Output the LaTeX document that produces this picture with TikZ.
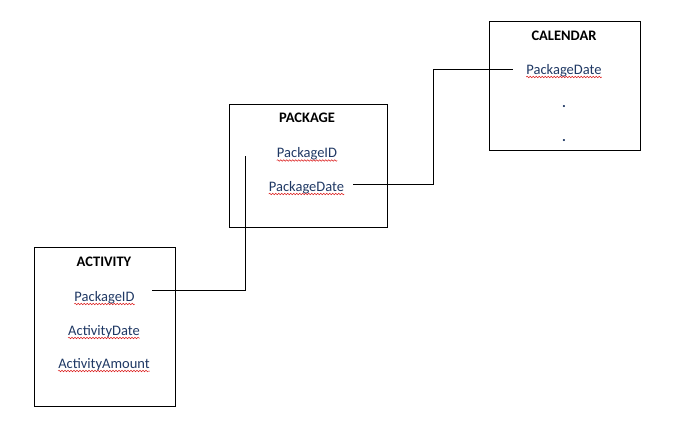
\documentclass[tikz,border=0pt]{standalone}
\usepackage{fontspec}
\setmainfont{Carlito}
\usetikzlibrary{decorations.pathmorphing}
\definecolor{fieldblue}{RGB}{31,56,100}
\definecolor{spellred}{RGB}{220,30,30}
\begin{document}
\begin{tikzpicture}[x=1pt,y=-1pt,
  table/.style={draw=black, line width=0.8pt, minimum width=#1},
  title/.style={font=\fontsize{14.5}{17}\selectfont\bfseries, text=black, anchor=base, inner sep=0pt},
  field/.style={font=\fontsize{14.5}{17}\selectfont, text=fieldblue, anchor=base, inner sep=0pt},
  spell/.style={draw=spellred, line width=0.5pt, decorate, decoration={snake, amplitude=0.8pt, segment length=3pt}},
  link/.style={draw=black, line width=0.8pt}
]
\useasboundingbox (0,0) rectangle (686,429);

% tables
\draw[table] (489,21) rectangle (640,150);
\draw[table] (229,104) rectangle (387,227);
\draw[table] (34,247) rectangle (175,406);

% CALENDAR
\node[title] (calTitle) at (564,40) {CALENDAR};
\node[field] (calDate) at (564,74) {PackageDate};
\node[field, font=\fontsize{14.5}{17}\selectfont\bfseries] (calDotA) at (564,107) {.};
\node[field, font=\fontsize{14.5}{17}\selectfont\bfseries] (calDotB) at (564,141) {.};

% PACKAGE
\node[title] (pkgTitle) at (307,122) {PACKAGE};
\node[field] (pkgID) at (307,157.5) {PackageID};
\node[field] (pkgDate) at (306.5,191) {PackageDate};

% ACTIVITY
\node[title] (actTitle) at (104,266) {ACTIVITY};
\node[field] (actID) at (104.5,301) {PackageID};
\node[field] (actDate) at (104,335) {ActivityDate};
\node[field] (actAmount) at (104,368) {ActivityAmount};

% spell check marks
\foreach \n in {calDate,pkgID,pkgDate,actID,actDate,actAmount}
  \draw[spell] ([yshift=-3pt]\n.base west) -- ([yshift=-3pt]\n.base east);

% link ends
\coordinate (actOut) at (152,290);
\coordinate (pkgIn) at (245,156);
\coordinate (pkgOut) at (353,184);
\coordinate (calIn) at (513,69);

\draw[link] (actOut) -| (pkgIn);
\draw[link] (pkgOut) -- ++(80,0) |- (calIn);
\end{tikzpicture}
\end{document}
